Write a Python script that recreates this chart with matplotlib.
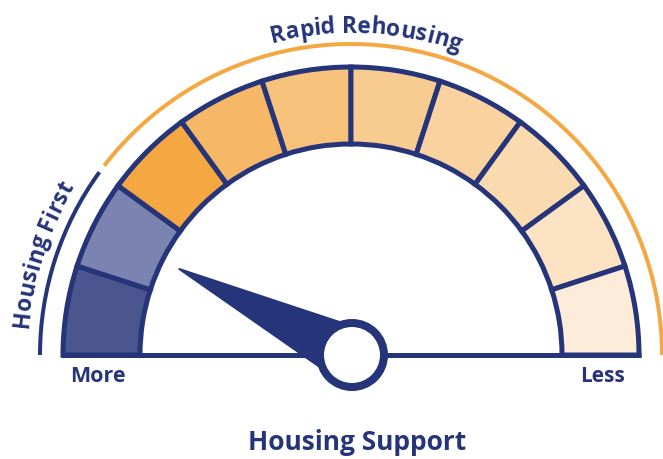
import numpy as np
import matplotlib
matplotlib.use("Agg")
import matplotlib.pyplot as plt
from matplotlib.patches import Wedge, Arc, Circle, Polygon
from matplotlib.font_manager import FontProperties

# ---- data ----
segment_colors = ["#4b568f", "#7b84b0", "#f5a742", "#f6b866", "#f7c27c",
                  "#f8cb90", "#f9d29f", "#fadbb0", "#fbe3c3", "#fdecd9"]
needle_angle = 153.4          # degrees, pointing position
scale_labels = ["More", "Less"]
band_labels = ["Housing First", "Rapid Rehousing"]
band_ranges = [(144.0, 180.0), (0.0, 142.5)]
band_colors = ["#26357a", "#f5a742"]
title = "Housing Support"

NAVY = "#26357a"
FONT = "Open Sans"

W, H = 663, 459
fig = plt.figure(figsize=(W / 100, H / 100), dpi=100)
ax = fig.add_axes([0, 0, 1, 1])
ax.set_xlim(0, W)
ax.set_ylim(0, H)
ax.axis("off")

cx, cy = 351, H - 355
r_out, r_in = 288, 211
px = 72 / 100  # points per pixel

n = len(segment_colors)
step = 180.0 / n
for i, col in enumerate(segment_colors):
    t2 = 180 - i * step
    t1 = t2 - step
    ax.add_patch(Wedge((cx, cy), r_out, t1, t2, width=r_out - r_in,
                       facecolor=col, edgecolor=NAVY, lw=5 * px, joinstyle="miter"))

# baseline
ax.plot([cx - r_out - 2, cx + r_out + 2], [cy, cy], color=NAVY, lw=5 * px,
        solid_capstyle="butt", zorder=3)

# outer band arcs
r_band = 311
for (a1, a2), col in zip(band_ranges, band_colors):
    ax.add_patch(Arc((cx, cy), 2 * r_band, 2 * r_band, theta1=a1, theta2=a2,
                     color=col, lw=4 * px))

# needle
L = 192
hw = 28
th = np.deg2rad(needle_angle)
ux, uy = np.cos(th), np.sin(th)
vx, vy = -uy, ux
tip = (cx + L * ux, cy + L * uy)
b1 = (cx + hw * vx, cy + hw * vy)
b2 = (cx - hw * vx, cy - hw * vy)
ax.add_patch(Polygon([tip, b1, b2], closed=True, facecolor=NAVY, edgecolor=NAVY,
                     lw=2 * px, joinstyle="round", zorder=4))
ax.add_patch(Circle((cx + 1, cy), 32, facecolor="white", edgecolor=NAVY,
                    lw=8 * px, zorder=5))

# labels
ax.text(98, H - 377, scale_labels[0], ha="center", va="center", fontsize=15.5,
        fontweight="bold", color=NAVY, family=FONT)
ax.text(602, H - 377, scale_labels[1], ha="center", va="center", fontsize=15,
        fontweight="bold", color=NAVY, family=FONT)
ax.text(357, H - 442, title, ha="center", va="center", fontsize=19,
        fontweight="bold", color=NAVY, family=FONT)

# curved text
fig.canvas.draw()
renderer = fig.canvas.get_renderer()


def curved_text(s, center_angle, radius, size):
    fp = FontProperties(family=FONT, weight="bold", size=size)

    def width(t):
        if not t:
            return 0.0
        w, _, _ = renderer.get_text_width_height_descent(t.replace(" ", "\u00a0"), fp, ismath=False)
        return w
    total = width(s)
    for i, ch in enumerate(s):
        if ch == " ":
            continue
        c = (width(s[:i]) + width(s[:i + 1])) / 2 - total / 2
        ang = center_angle - np.rad2deg(c / radius)
        a = np.deg2rad(ang)
        ax.text(cx + radius * np.cos(a), cy + radius * np.sin(a), ch,
                rotation=ang - 90, rotation_mode="anchor", ha="center", va="baseline",
                fontsize=size, fontweight="bold", color=NAVY, family=FONT)


curved_text(band_labels[1], 87.3, 322, 16.5)
curved_text(band_labels[0], 162.0, 324, 16.5)

fig.savefig("out.png", dpi=100)
